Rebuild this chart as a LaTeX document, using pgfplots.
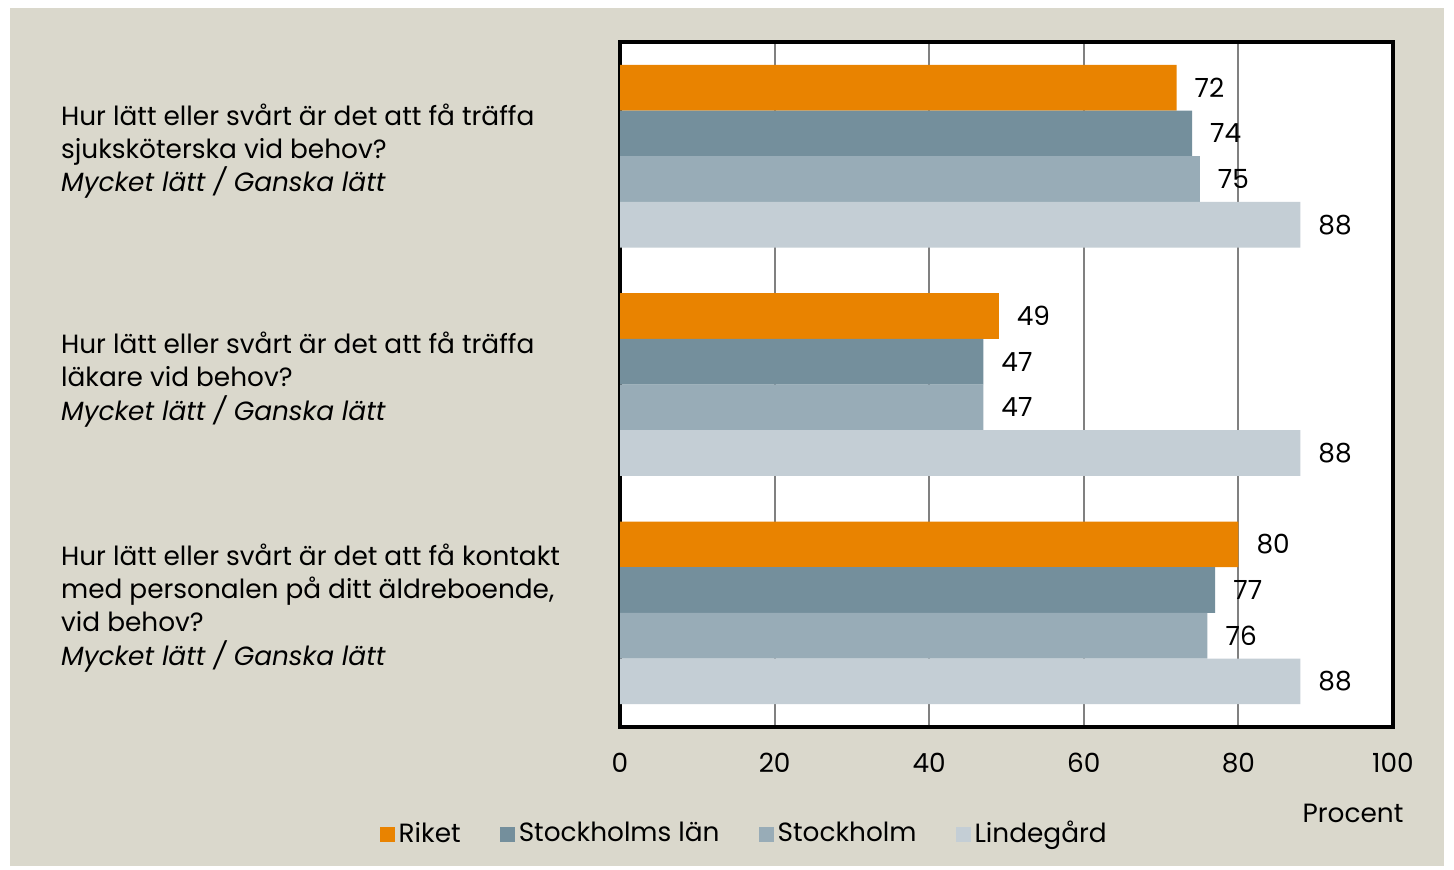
\documentclass[border=0pt]{standalone}
\usepackage{pgfplots}
\pgfplotsset{compat=1.18}
\usepackage{fontspec}
\setmainfont{Poppins}
\definecolor{bg}{HTML}{DAD8CC}
\definecolor{riket}{HTML}{E98300}
\definecolor{lan}{HTML}{748F9C}
\definecolor{sthlm}{HTML}{98ACB7}
\definecolor{linde}{HTML}{C4CED5}
\begin{document}
\fontsize{15}{19}\selectfont
\begin{tikzpicture}
\fill[white] (0,0) rectangle (29.08,-17.38);
\fill[bg] (0.2,-0.16) rectangle (28.88,-17.32);
\begin{axis}[
  at={(12.4cm,-0.84cm)}, anchor=north west,
  scale only axis, width=15.46cm, height=13.7cm,
  xbar, xmin=0, xmax=100, ymin=-0.5, ymax=2.5, y dir=reverse,
  bar width=0.2,
  /pgf/number format/assume math mode=true,
  font=\fontsize{15}{19}\selectfont,
  axis background/.style={fill=white},
  axis line style={line width=2.8pt, black},
  xtick={0,20,...,100}, ytick={0,1,2},
  major tick length=0pt,
  xmajorgrids, major grid style={color=black!50, line width=1.1pt},
  x tick label style={yshift=-0.34cm},
  yticklabels={
    {Hur lätt eller svårt är det att få träffa\\sjuksköterska vid behov?\\\textit{Mycket lätt / Ganska lätt}},
    {Hur lätt eller svårt är det att få träffa\\läkare vid behov?\\\textit{Mycket lätt / Ganska lätt}},
    {Hur lätt eller svårt är det att få kontakt\\med personalen på ditt äldreboende,\\vid behov?\\\textit{Mycket lätt / Ganska lätt}}},
  y tick label style={anchor=west, align=left, xshift=-11.36cm, yshift=0.1cm},
  nodes near coords,
  every node near coord/.append style={anchor=west, xshift=0.18cm, black},
  xlabel={Procent},
  xlabel style={at={(rel axis cs:1,0)}, anchor=center, xshift=-0.8cm, yshift=-1.72cm},
  legend columns=4,
  legend style={at={(0.162,0)}, anchor=center, yshift=-2.14cm, draw=none, fill=none,
    /tikz/every even column/.append style={column sep=0.72cm}},
  legend image code/.code={\fill[#1, draw=none] (0cm,-0.15cm) rectangle (0.3cm,0.15cm);},
]
\addplot[fill=riket, draw=none, bar shift=-0.3] coordinates {(72,0) (49,1) (80,2)};
\addplot[fill=lan, draw=none, bar shift=-0.1] coordinates {(74,0) (47,1) (77,2)};
\addplot[fill=sthlm, draw=none, bar shift=0.1] coordinates {(75,0) (47,1) (76,2)};
\addplot[fill=linde, draw=none, bar shift=0.3] coordinates {(88,0) (88,1) (88,2)};
\legend{Riket, Stockholms län, Stockholm, Lindegård}
\end{axis}
\end{tikzpicture}
\end{document}
